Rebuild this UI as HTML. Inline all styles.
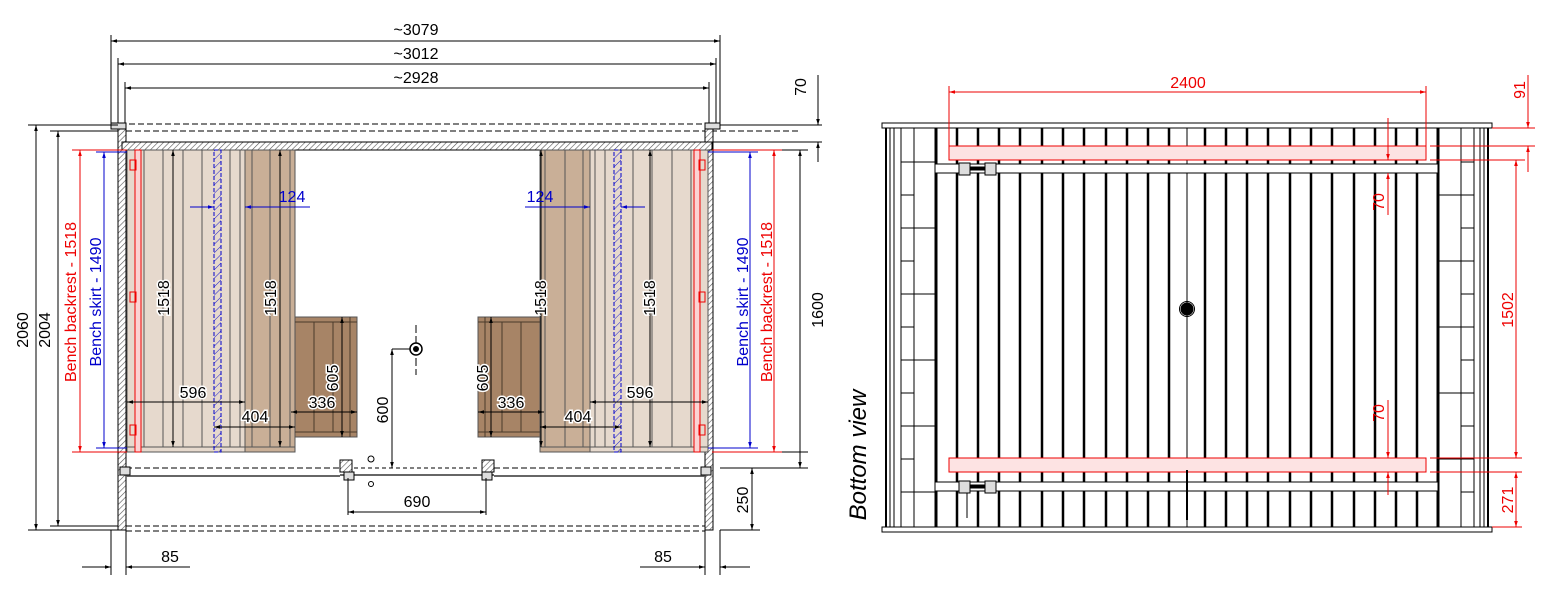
<!DOCTYPE html>
<html><head><meta charset="utf-8"><style>
html,body{margin:0;padding:0;background:#fff}
svg{display:block}
text{font-family:"Liberation Sans",sans-serif;font-size:16px}
</style></head><body>
<svg width="1554" height="609" viewBox="0 0 1554 609" xmlns="http://www.w3.org/2000/svg">
<defs>
<pattern id="h" width="4" height="4" patternUnits="userSpaceOnUse" patternTransform="rotate(45)"><rect width="4" height="4" fill="#fff"/><line x1="0" y1="0" x2="0" y2="4" stroke="#555" stroke-width="1.2"/></pattern>
<pattern id="hb" width="6" height="6" patternUnits="userSpaceOnUse" patternTransform="rotate(45)"><line x1="0" y1="0" x2="0" y2="6" stroke="#22c" stroke-width="1"/></pattern>
<marker id="a" viewBox="0 0 10 10" refX="10" refY="5" markerWidth="10" markerHeight="6" orient="auto-start-reverse" markerUnits="userSpaceOnUse"><path d="M0,2 L10,5 L0,8z" fill="#000"/></marker>
<marker id="ar" viewBox="0 0 10 10" refX="10" refY="5" markerWidth="10" markerHeight="6" orient="auto-start-reverse" markerUnits="userSpaceOnUse"><path d="M0,2 L10,5 L0,8z" fill="#e00"/></marker>
<marker id="ab" viewBox="0 0 10 10" refX="10" refY="5" markerWidth="10" markerHeight="6" orient="auto-start-reverse" markerUnits="userSpaceOnUse"><path d="M0,2 L10,5 L0,8z" fill="#00c"/></marker>
</defs>

<g stroke="#000" stroke-width="1" fill="none">
<line x1="111" y1="35" x2="111" y2="125"/><line x1="118" y1="58" x2="118" y2="125"/><line x1="125" y1="82" x2="125" y2="125"/>
<line x1="720" y1="35" x2="720" y2="125"/><line x1="716" y1="58" x2="716" y2="125"/><line x1="709" y1="82" x2="709" y2="125"/>
<line x1="111" y1="41" x2="720" y2="41" marker-start="url(#a)" marker-end="url(#a)"/>
<line x1="118" y1="64" x2="716" y2="64" marker-start="url(#a)" marker-end="url(#a)"/>
<line x1="125" y1="88" x2="709" y2="88" marker-start="url(#a)" marker-end="url(#a)"/>
<line x1="111" y1="124" x2="720" y2="124" stroke-dasharray="6,3"/>
<line x1="126" y1="131" x2="800" y2="131" stroke-dasharray="6,3"/>
<line x1="720" y1="125" x2="822" y2="125"/>
<line x1="712" y1="142" x2="822" y2="142"/>
</g>
<rect x="118" y="128" width="8" height="402" fill="url(#h)" stroke="#000"/>
<rect x="705" y="128" width="8" height="402" fill="url(#h)" stroke="#000"/>
<rect x="111" y="123" width="15" height="6" fill="#ddd" stroke="#000"/>
<rect x="705" y="123" width="15" height="6" fill="#ddd" stroke="#000"/>
<rect x="122" y="142" width="590" height="8" fill="url(#h)" stroke="#000"/>

<rect x="127" y="150" width="118" height="302" fill="#e6d9cd" stroke="#555"/>
<rect x="245" y="150" width="50" height="302" fill="#c9af97" stroke="#555"/>
<g stroke="#555" stroke-width="1">
<line x1="144" y1="150" x2="144" y2="447"/><line x1="163" y1="150" x2="163" y2="447"/><line x1="183" y1="150" x2="183" y2="447"/><line x1="202" y1="150" x2="202" y2="447"/><line x1="230" y1="150" x2="230" y2="447"/><line x1="240" y1="150" x2="240" y2="447"/><line x1="252" y1="150" x2="252" y2="447"/><line x1="270" y1="150" x2="270" y2="447"/><line x1="290" y1="150" x2="290" y2="447"/>
<line x1="127" y1="447" x2="295" y2="447"/>
</g>
<rect x="135" y="150" width="6" height="302" fill="#fbd3d3" stroke="#e00"/>
<rect x="130" y="160" width="6" height="10" fill="none" stroke="#e00"/><rect x="130" y="292" width="6" height="10" fill="none" stroke="#e00"/><rect x="130" y="425" width="6" height="10" fill="none" stroke="#e00"/>
<rect x="214" y="150" width="7" height="302" fill="url(#hb)" stroke="#00c" stroke-dasharray="4,2"/>
<rect x="295" y="317" width="62" height="120" fill="#a78466" stroke="#555"/>
<g stroke="#4a3a2a"><line x1="314" y1="322" x2="314" y2="432"/><line x1="333" y1="322" x2="333" y2="432"/><line x1="350" y1="317" x2="350" y2="437"/><line x1="295" y1="322" x2="357" y2="322"/><line x1="295" y1="432" x2="357" y2="432"/></g>

<rect x="590" y="150" width="118" height="302" fill="#e6d9cd" stroke="#555"/>
<rect x="540" y="150" width="50" height="302" fill="#c9af97" stroke="#555"/>
<g stroke="#555" stroke-width="1">
<line x1="691" y1="150" x2="691" y2="447"/><line x1="672" y1="150" x2="672" y2="447"/><line x1="652" y1="150" x2="652" y2="447"/><line x1="633" y1="150" x2="633" y2="447"/><line x1="605" y1="150" x2="605" y2="447"/><line x1="595" y1="150" x2="595" y2="447"/><line x1="583" y1="150" x2="583" y2="447"/><line x1="565" y1="150" x2="565" y2="447"/><line x1="545" y1="150" x2="545" y2="447"/>
<line x1="540" y1="447" x2="708" y2="447"/>
</g>
<rect x="694" y="150" width="6" height="302" fill="#fbd3d3" stroke="#e00"/>
<rect x="699" y="160" width="6" height="10" fill="none" stroke="#e00"/><rect x="699" y="292" width="6" height="10" fill="none" stroke="#e00"/><rect x="699" y="425" width="6" height="10" fill="none" stroke="#e00"/>
<rect x="614" y="150" width="7" height="302" fill="url(#hb)" stroke="#00c" stroke-dasharray="4,2"/>
<rect x="478" y="317" width="62" height="120" fill="#a78466" stroke="#555"/>
<g stroke="#4a3a2a"><line x1="521" y1="322" x2="521" y2="432"/><line x1="502" y1="322" x2="502" y2="432"/><line x1="485" y1="317" x2="485" y2="437"/><line x1="478" y1="322" x2="540" y2="322"/><line x1="478" y1="432" x2="540" y2="432"/></g>

<g stroke="#000" fill="none">
<line x1="126" y1="468" x2="340" y2="468" stroke-dasharray="6,3"/><line x1="494" y1="468" x2="705" y2="468" stroke-dasharray="6,3"/>
<line x1="126" y1="476" x2="340" y2="476" stroke="#666" stroke-width="2"/><line x1="494" y1="476" x2="705" y2="476" stroke="#666" stroke-width="2"/>
<line x1="126" y1="526" x2="705" y2="526" stroke-dasharray="6,3"/><line x1="126" y1="531" x2="705" y2="531" stroke-dasharray="6,3"/>
<line x1="720" y1="452" x2="808" y2="452"/><line x1="720" y1="468" x2="808" y2="468"/><line x1="720" y1="530" x2="760" y2="530"/>
<line x1="340" y1="475" x2="494" y2="475" stroke-width="2" stroke="#666"/>
<line x1="354" y1="468" x2="480" y2="468" stroke-dasharray="4,3"/>
</g>
<rect x="340" y="460" width="12" height="12" fill="url(#h)" stroke="#000"/><rect x="482" y="460" width="12" height="12" fill="url(#h)" stroke="#000"/>
<rect x="344" y="472" width="10" height="8" fill="#ddd" stroke="#000"/><rect x="482" y="472" width="10" height="8" fill="#ddd" stroke="#000"/>
<circle cx="371" cy="459" r="3" fill="#fff" stroke="#000"/><circle cx="371" cy="484" r="2.5" fill="#fff" stroke="#000"/>
<rect x="120" y="467" width="10" height="8" fill="#ddd" stroke="#000"/><rect x="701" y="467" width="10" height="8" fill="#ddd" stroke="#000"/>
<line x1="416" y1="325" x2="416" y2="375" stroke="#000" stroke-dasharray="8,3"/>
<circle cx="416" cy="349" r="6" fill="#fff" stroke="#000" stroke-width="1.5"/><circle cx="416" cy="349" r="3" fill="#000"/>

<g stroke="#000" fill="none">
<line x1="28" y1="125" x2="118" y2="125"/><line x1="28" y1="530" x2="118" y2="530"/><line x1="50" y1="131" x2="118" y2="131"/><line x1="50" y1="526" x2="118" y2="526"/>
<line x1="36" y1="125" x2="36" y2="530" marker-start="url(#a)" marker-end="url(#a)"/>
<line x1="58" y1="131" x2="58" y2="526" marker-start="url(#a)" marker-end="url(#a)"/>
<line x1="800" y1="150" x2="800" y2="468" marker-start="url(#a)" marker-end="url(#a)"/>
<line x1="712" y1="150" x2="808" y2="150"/>
<line x1="818" y1="105" x2="818" y2="125" marker-end="url(#a)"/><line x1="818" y1="162" x2="818" y2="142" marker-end="url(#a)"/><line x1="818" y1="75" x2="818" y2="105"/>
<line x1="752" y1="468" x2="752" y2="530" marker-start="url(#a)" marker-end="url(#a)"/>
<line x1="111" y1="530" x2="111" y2="575"/><line x1="126" y1="530" x2="126" y2="575"/><line x1="705" y1="530" x2="705" y2="575"/><line x1="720" y1="530" x2="720" y2="575"/>
<line x1="82" y1="567" x2="111" y2="567" marker-end="url(#a)"/><line x1="190" y1="567" x2="126" y2="567" marker-end="url(#a)"/>
<line x1="640" y1="567" x2="705" y2="567" marker-end="url(#a)"/><line x1="750" y1="567" x2="720" y2="567" marker-end="url(#a)"/>
<line x1="348" y1="512" x2="486" y2="512" marker-start="url(#a)" marker-end="url(#a)"/><line x1="348" y1="478" x2="348" y2="515"/><line x1="486" y1="478" x2="486" y2="515"/>
<line x1="392" y1="349" x2="392" y2="468" marker-start="url(#a)" marker-end="url(#a)"/><line x1="392" y1="349" x2="410" y2="349"/>
<line x1="173" y1="150" x2="173" y2="447" marker-start="url(#a)" marker-end="url(#a)"/>
<line x1="280" y1="150" x2="280" y2="447" marker-start="url(#a)" marker-end="url(#a)"/>
<line x1="541" y1="150" x2="541" y2="447" marker-start="url(#a)" marker-end="url(#a)"/>
<line x1="650" y1="150" x2="650" y2="447" marker-start="url(#a)" marker-end="url(#a)"/>
<line x1="127" y1="402" x2="245" y2="402" marker-start="url(#a)" marker-end="url(#a)"/>
<line x1="590" y1="402" x2="708" y2="402" marker-start="url(#a)" marker-end="url(#a)"/>
<line x1="214" y1="427" x2="295" y2="427" marker-start="url(#a)" marker-end="url(#a)"/>
<line x1="540" y1="427" x2="621" y2="427" marker-start="url(#a)" marker-end="url(#a)"/>
<line x1="291" y1="412" x2="357" y2="412" marker-start="url(#a)" marker-end="url(#a)"/>
<line x1="478" y1="412" x2="544" y2="412" marker-start="url(#a)" marker-end="url(#a)"/>
<line x1="342" y1="317" x2="342" y2="437" marker-start="url(#a)" marker-end="url(#a)"/>
<line x1="491" y1="317" x2="491" y2="437" marker-start="url(#a)" marker-end="url(#a)"/>
</g>
<g stroke="#00c" fill="none">
<line x1="104" y1="152" x2="104" y2="448" marker-start="url(#ab)" marker-end="url(#ab)"/><line x1="96" y1="152" x2="127" y2="152"/><line x1="96" y1="448" x2="127" y2="448"/>
<line x1="750" y1="152" x2="750" y2="448" marker-start="url(#ab)" marker-end="url(#ab)"/><line x1="708" y1="152" x2="758" y2="152"/><line x1="708" y1="448" x2="758" y2="448"/>
<line x1="190" y1="207" x2="214" y2="207" marker-end="url(#ab)"/><line x1="310" y1="207" x2="245" y2="207" marker-end="url(#ab)"/>
<line x1="525" y1="207" x2="590" y2="207" marker-end="url(#ab)"/><line x1="645" y1="207" x2="621" y2="207" marker-end="url(#ab)"/>
</g>
<g stroke="#e00" fill="none">
<line x1="80" y1="150" x2="80" y2="452" marker-start="url(#ar)" marker-end="url(#ar)"/><line x1="72" y1="150" x2="127" y2="150"/><line x1="72" y1="452" x2="127" y2="452"/>
<line x1="774" y1="150" x2="774" y2="452" marker-start="url(#ar)" marker-end="url(#ar)"/><line x1="712" y1="150" x2="782" y2="150"/><line x1="712" y1="452" x2="782" y2="452"/>
</g>
<g fill="#000" text-anchor="middle">
<text x="416" y="35">~3079</text><text x="416" y="59">~3012</text><text x="416" y="83">~2928</text>
<text transform="translate(28,330) rotate(-90)">2060</text>
<text transform="translate(50,330) rotate(-90)">2004</text>
<text transform="translate(823,310) rotate(-90)">1600</text>
<text transform="translate(806,87) rotate(-90)">70</text>
<text transform="translate(748,500) rotate(-90)">250</text>
<text x="170" y="562">85</text><text x="663" y="562">85</text>
<text x="417" y="507">690</text>
<text transform="translate(388,410) rotate(-90)">600</text>
<g style="paint-order:stroke" stroke="#fff" stroke-width="3">
<text transform="translate(169,298) rotate(-90)">1518</text>
<text transform="translate(276,298) rotate(-90)">1518</text>
<text transform="translate(546,298) rotate(-90)">1518</text>
<text transform="translate(655,298) rotate(-90)">1518</text>
<text x="193" y="398">596</text><text x="640" y="398">596</text>
<text x="255" y="422">404</text><text x="578" y="422">404</text>
<text x="322" y="408">336</text><text x="511" y="408">336</text>
<text transform="translate(338,378) rotate(-90)">605</text>
<text transform="translate(488,378) rotate(-90)">605</text>
</g>
</g>
<g fill="#00c" text-anchor="middle">
<text x="292" y="202">124</text><text x="540" y="202">124</text>
<text transform="translate(101,302) rotate(-90)">Bench skirt - 1490</text>
<text transform="translate(748,302) rotate(-90)">Bench skirt - 1490</text>
</g>
<g fill="#e00" text-anchor="middle">
<text transform="translate(76,302) rotate(-90)">Bench backrest - 1518</text>
<text transform="translate(772,302) rotate(-90)">Bench backrest - 1518</text>
</g>

<rect x="882" y="123" width="610" height="5" fill="#fff" stroke="#000"/>
<rect x="882" y="527" width="610" height="5" fill="#fff" stroke="#000"/>
<g stroke="#000" fill="none">
<line x1="886" y1="128" x2="886" y2="527" stroke-width="2"/><line x1="890" y1="128" x2="890" y2="527"/><line x1="894" y1="128" x2="894" y2="527"/>
<line x1="901" y1="128" x2="901" y2="527"/><line x1="914" y1="128" x2="914" y2="527"/>
<line x1="936" y1="128" x2="936" y2="527" stroke-width="3"/>
<line x1="1488" y1="128" x2="1488" y2="527" stroke-width="2"/><line x1="1484" y1="128" x2="1484" y2="527"/><line x1="1480" y1="128" x2="1480" y2="527"/>
<line x1="1474" y1="128" x2="1474" y2="527"/><line x1="1461" y1="128" x2="1461" y2="527"/>
<line x1="1438" y1="128" x2="1438" y2="527" stroke-width="3"/>
<path d="M901 162h13M901 195h13M901 228h13M901 261h13M901 294h13M901 327h13M901 360h13M901 393h13M901 426h13M901 459h13M901 492h13"/>
<path d="M914 162h22M914 228h22M914 294h22M914 360h22M914 426h22M914 492h22"/>
<path d="M1461 162h13M1461 195h13M1461 228h13M1461 261h13M1461 294h13M1461 327h13M1461 360h13M1461 393h13M1461 426h13M1461 459h13M1461 492h13"/>
<path d="M1438 195h23M1438 261h23M1438 327h23M1438 393h23M1438 459h23"/>
<line x1="1187" y1="128" x2="1187" y2="527"/>
</g>
<g stroke="#000" stroke-width="2.5">
<line x1="957" y1="128" x2="957" y2="527"/><line x1="978" y1="128" x2="978" y2="527"/><line x1="999" y1="128" x2="999" y2="527"/><line x1="1020" y1="128" x2="1020" y2="527"/><line x1="1042" y1="128" x2="1042" y2="527"/><line x1="1063" y1="128" x2="1063" y2="527"/><line x1="1084" y1="128" x2="1084" y2="527"/><line x1="1106" y1="128" x2="1106" y2="527"/><line x1="1127" y1="128" x2="1127" y2="527"/><line x1="1148" y1="128" x2="1148" y2="527"/><line x1="1169" y1="128" x2="1169" y2="527"/>
<line x1="1205" y1="128" x2="1205" y2="527"/><line x1="1226" y1="128" x2="1226" y2="527"/><line x1="1247" y1="128" x2="1247" y2="527"/><line x1="1268" y1="128" x2="1268" y2="527"/><line x1="1290" y1="128" x2="1290" y2="527"/><line x1="1311" y1="128" x2="1311" y2="527"/><line x1="1332" y1="128" x2="1332" y2="527"/><line x1="1354" y1="128" x2="1354" y2="527"/><line x1="1375" y1="128" x2="1375" y2="527"/><line x1="1396" y1="128" x2="1396" y2="527"/><line x1="1417" y1="128" x2="1417" y2="527"/>
</g>
<rect x="935" y="164" width="503" height="9" fill="#fff" stroke="#000"/>
<rect x="935" y="482" width="503" height="9" fill="#fff" stroke="#000"/>
<rect x="949" y="146" width="477" height="14" fill="#fde3e3" stroke="#e00"/>
<rect x="949" y="458" width="477" height="14" fill="#fde3e3" stroke="#e00"/>
<g fill="#000" stroke="#000">
<rect x="959" y="163" width="11" height="12" fill="#ddd"/><rect x="985" y="163" width="11" height="12" fill="#ddd"/><rect x="970" y="167" width="15" height="3"/>
<rect x="959" y="481" width="11" height="12" fill="#ddd"/><rect x="985" y="481" width="11" height="12" fill="#ddd"/><rect x="970" y="485" width="15" height="3"/>
<line x1="967" y1="493" x2="967" y2="518"/><line x1="1187" y1="470" x2="1187" y2="520" stroke-width="2"/>
</g>
<circle cx="1187" cy="309" r="6" fill="#000" stroke="#000"/><circle cx="1187" cy="309" r="7.5" fill="none" stroke="#000"/>
<g stroke="#e00" fill="none">
<line x1="949" y1="92" x2="1426" y2="92" marker-start="url(#ar)" marker-end="url(#ar)"/>
<line x1="949" y1="86" x2="949" y2="146"/><line x1="1426" y1="86" x2="1426" y2="146"/>
<line x1="1492" y1="128" x2="1535" y2="128"/><line x1="1430" y1="146" x2="1535" y2="146"/><line x1="1430" y1="160" x2="1525" y2="160"/>
<line x1="1528" y1="75" x2="1528" y2="128" marker-end="url(#ar)"/><line x1="1528" y1="172" x2="1528" y2="146" marker-end="url(#ar)"/>
<line x1="1516" y1="160" x2="1516" y2="458" marker-start="url(#ar)" marker-end="url(#ar)"/>
<line x1="1430" y1="458" x2="1522" y2="458"/><line x1="1430" y1="472" x2="1522" y2="472"/><line x1="1492" y1="527" x2="1522" y2="527"/>
<line x1="1516" y1="472" x2="1516" y2="527" marker-start="url(#ar)" marker-end="url(#ar)"/>
<line x1="1388" y1="118" x2="1388" y2="160" marker-end="url(#ar)"/><line x1="1388" y1="215" x2="1388" y2="173" marker-end="url(#ar)"/>
<line x1="1388" y1="400" x2="1388" y2="458" marker-end="url(#ar)"/><line x1="1388" y1="495" x2="1388" y2="472" marker-end="url(#ar)"/>
</g>
<g fill="#e00" text-anchor="middle">
<text x="1188" y="88">2400</text>
<text transform="translate(1525,90) rotate(-90)">91</text>
<text transform="translate(1513,310) rotate(-90)">1502</text>
<text transform="translate(1513,500) rotate(-90)">271</text>
<text transform="translate(1384,202) rotate(-90)">70</text>
<text transform="translate(1384,413) rotate(-90)">70</text>
</g>
<text transform="translate(866,455) rotate(-90)" text-anchor="middle" style="font-size:24px;font-style:italic">Bottom view</text>
</svg>
</body></html>
